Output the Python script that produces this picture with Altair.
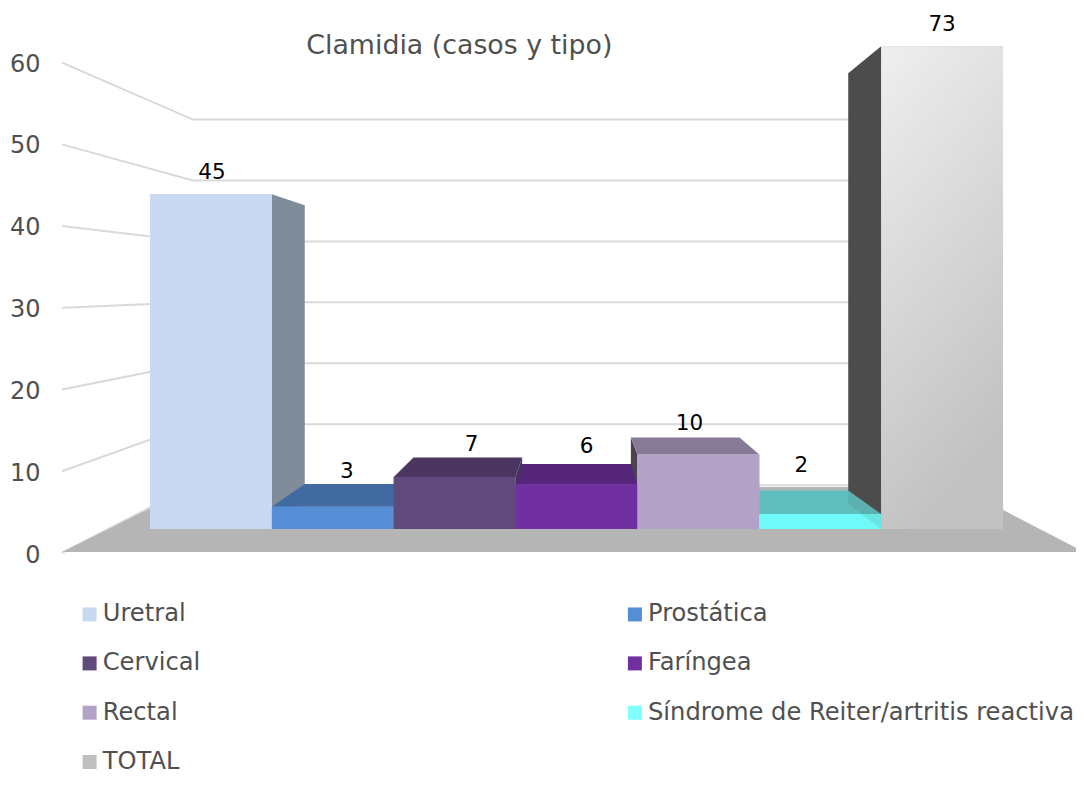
import altair as alt
import pandas as pd

# --- data ---
categories = ["Uretral", "Prostática", "Cervical", "Faríngea", "Rectal",
              "Síndrome de Reiter/artritis reactiva", "TOTAL"]
values = [45, 3, 7, 6, 10, 2, 73]
axis_ticks = [0, 10, 20, 30, 40, 50, 60]

# --- style ---
legend_colors = ["#C6D9F1", "#558ED5", "#604A7B", "#7030A0", "#B3A2C7", "#7FFFFF", "#BFBFBF"]
top_colors = ["#8A99A8", "#416BA0", "#4A3660", "#542578", "#877A96", "#5FBFBF", "#4D4D4D"]
side_colors = ["#7F8D9B", "#416BA0", "#453558", "#3F3F50", "#48454F", "#50AEAE", "#4D4D4D"]
def grad(a, b):
    return alt.Gradient(gradient="linear", x1=0, y1=0, x2=0.3, y2=1,
                        stops=[alt.GradientStop(color=a, offset=0), alt.GradientStop(color=b, offset=1)])
front_fills = ["#C8D9F1", "#558ED5", "#604A7B", "#7030A0", "#B3A2C7", "#6FF9F9",
               grad("#EFEFEF", "#C2C2C2")]
FONT = "DejaVu Sans"
TXT = "#505050"

W, H = 1068, 769
ORIGIN_X, BAR_W, BASE_Y, UNIT = 142.0, 121.86, 521.0, 7.44  # chart px
xdom = [(0 - ORIGIN_X) / BAR_W, (W - ORIGIN_X) / BAR_W]
ydom = [(BASE_Y - H) / UNIT, BASE_Y / UNIT]
xs = alt.Scale(domain=xdom, nice=False, zero=False)
ys = alt.Scale(domain=ydom, nice=False, zero=False)
X = lambda f: alt.X(f"{f}:Q", scale=xs, axis=None)
Y = lambda f: alt.Y(f"{f}:Q", scale=ys, axis=None)

# perspective of the bars: front plane -> back plane around the vanishing point
VPX, VPV, K = 3.5, 31.3, 0.892
CLIP = 64.9   # the axis cuts the tallest bar
bx = lambda x: VPX + (x - VPX) * K
bv = lambda v: VPV + (v - VPV) * K

layers = []

# walls: each grid line runs along the side wall and then along the back wall
WALL_X0, WALL_X1, WALL_X2 = -0.722, 0.353, 6.64
WALL_VP, WALL_K, WALL_STEP, WALL_BASE = 32.6, 0.7455, 8.183 / 7.45, -3.22
rows = []
for g in axis_ticks:
    f = WALL_BASE + g * WALL_STEP
    b = WALL_VP + (f - WALL_VP) * WALL_K
    rows += [dict(g=g, s=0, x=WALL_X0, y=f), dict(g=g, s=1, x=WALL_X1, y=b), dict(g=g, s=2, x=WALL_X2, y=b)]
layers.append(alt.Chart(pd.DataFrame(rows)).mark_line(color="#D9D9D9", strokeWidth=2).encode(
    x=X("x"), y=Y("y"), detail="g:N", order="s:Q"))

# floor (its right tip runs to the edge of the drawing)
floor = pd.DataFrame([dict(y=WALL_BASE + 0.12, x=-0.722, x2=7.665), dict(y=5.64, x=0.353, x2=6.64)])
layers.append(alt.Chart(floor).mark_area(orient="horizontal", color="#B5B5B5", clip=True).encode(
    y=Y("y"), x=X("x"), x2="x2:Q"))

# side and top faces, from the outermost bars towards the centre
def side_df(i):
    v = min(values[i], CLIP)
    e = i + 1 if i < 3 else i
    return pd.DataFrame([dict(x=e, y=v, y2=0), dict(x=bx(e), y=bv(v), y2=bv(0))])

for i in sorted(range(len(values)), key=lambda n: -abs(n - 3)):
    v = min(values[i], CLIP)
    if i != 3:
        layers.append(alt.Chart(side_df(i)).mark_area(orient="vertical", color=side_colors[i]).encode(
            x=X("x"), y=Y("y"), y2="y2:Q"))
    if v < VPV:
        top = pd.DataFrame([dict(y=v, x=i, x2=i + 1), dict(y=bv(v), x=bx(i), x2=bx(i + 1))])
        layers.append(alt.Chart(top).mark_area(orient="horizontal", color=top_colors[i]).encode(
            y=Y("y"), x=X("x"), x2="x2:Q"))

# front faces; the first layer carries the legend
fronts = pd.DataFrame(dict(cat=categories, x=range(7), x2=[i + 1 for i in range(7)],
                           y=[0] * 7, y2=[min(v, CLIP) for v in values]))
legend = alt.Legend(title=None, orient="none", legendX=69.5, legendY=594, direction="horizontal", columns=2,
                    gridAlign="all", columnPadding=93.3, rowPadding=24.3, symbolType="square", symbolSize=196,
                    symbolStrokeWidth=0, symbolOffset=0, labelOffset=1, labelFont=FONT, labelFontSize=24.2,
                    labelColor=TXT, labelLimit=700)
layers.append(alt.Chart(fronts).mark_rect().encode(
    x=X("x"), x2="x2:Q", y=Y("y"), y2="y2:Q",
    color=alt.Color("cat:N", sort=None, legend=legend,
                    scale=alt.Scale(domain=categories, range=legend_colors))))
for i in range(7):
    layers.append(alt.Chart(fronts.iloc[[i]]).mark_rect(color=front_fills[i]).encode(
        x=X("x"), x2="x2:Q", y=Y("y"), y2="y2:Q"))

# the dark inner face of the tallest bar shows faintly through the neighbouring bar
layers.append(alt.Chart(side_df(6)).mark_area(orient="vertical", color=side_colors[6], opacity=0.12).encode(
    x=X("x"), y=Y("y"), y2="y2:Q"))

# data labels
label_dx = [1, 14, 17, 10, -9, -19, 0]
label_dy = [-21, -35, -32, -37, -31, -48, -21]
labels = fronts.assign(mid=[i + 0.5 for i in range(7)], val=values)
for i in range(7):
    layers.append(alt.Chart(labels.iloc[[i]]).mark_text(
        font=FONT, fontSize=21.5, color="#000000", dx=label_dx[i], dy=label_dy[i]).encode(
        x=X("mid"), y=Y("y2"), text="val:Q"))

# value axis, which belongs to the nearest edge of the side wall
AX0, AXU = 547.0, 491.0 / 60
axis_layer = alt.Chart(pd.DataFrame(dict(t=axis_ticks))).mark_point(opacity=0).encode(
    x=alt.value(0),
    y=alt.Y("t:Q", scale=alt.Scale(domain=[(AX0 - H) / AXU, AX0 / AXU], nice=False, zero=False),
            axis=alt.Axis(values=axis_ticks, grid=False, domain=False, ticks=False, title=None,
                          offset=-32, labelPadding=0, labelFont=FONT, labelFontSize=24, labelColor=TXT)))
layers.append(axis_layer)

chart = alt.layer(*layers).resolve_scale(y="independent").properties(
    width=W, height=H, padding=0, autosize=alt.AutoSizeParams(type="none"),
    title=alt.TitleParams("Clamidia (casos y tipo)", anchor="start", align="left", dx=301, dy=65,
                          offset=0, baseline="middle", font=FONT, fontSize=26.8, fontWeight="normal", color=TXT),
).configure_view(stroke=None)

chart.save("out.html", embed_options={"renderer": "svg", "actions": False})
